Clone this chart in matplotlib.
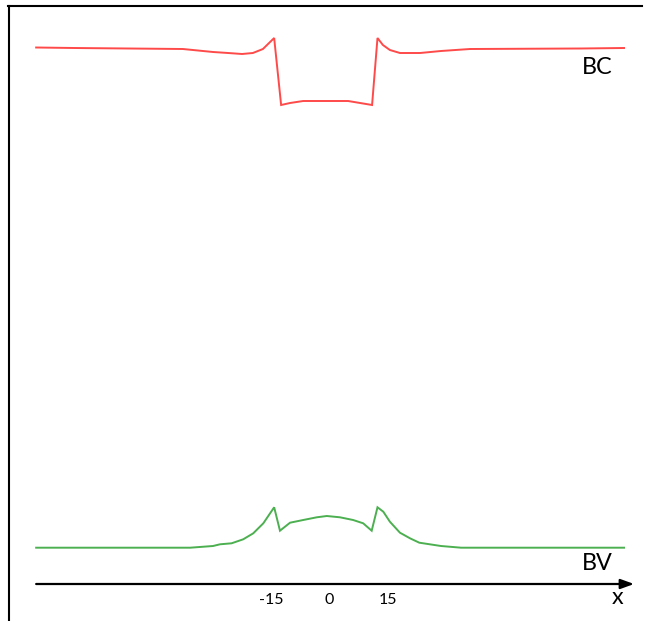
import matplotlib
matplotlib.use("Agg")
import matplotlib.pyplot as plt
from matplotlib.lines import Line2D

# ---- data (x in chart units, y in arbitrary height units) ----
bc_x = [-75.8, -66.0, -37.9, -30.1, -26.2, -22.6, -19.8, -17.2, -14.3, -12.5, -10.2, -6.8,
        4.8, 7.9, 11.0, 12.4, 13.8, 15.6, 18.2, 20.8, 23.4, 28.8, 36.3, 65.0, 76.1]
bc_y = [53.65, 53.6, 53.5, 53.2, 53.1, 53.0, 53.1, 53.5, 54.6, 47.9, 48.1, 48.3,
        48.3, 48.1, 47.9, 54.6, 53.9, 53.4, 53.1, 53.1, 53.1, 53.3, 53.5, 53.55, 53.6]

bv_x = [-75.8, -36.0, -30.1, -28.3, -25.3, -22.3, -19.7, -17.1, -14.3, -12.8, -10.2, -6.8,
        -3.3, -0.7, 2.7, 6.1, 8.7, 10.9, 12.4, 13.9, 15.6, 18.2, 20.8, 23.2, 28.8, 34.0, 76.1]
bv_y = [3.63, 3.63, 3.8, 3.97, 4.07, 4.47, 5.07, 6.07, 7.67, 5.33, 6.13, 6.4,
        6.67, 6.8, 6.67, 6.4, 6.07, 5.33, 7.67, 7.23, 6.23, 5.13, 4.57, 4.13, 3.8, 3.63, 3.63]

tick_values = [-15, 0, 15]
tick_labels = ["-15", "0", "15"]
series_labels = ["BC", "BV"]
axis_label = "x"

W, H, DPI = 646, 621, 100
fig = plt.figure(figsize=(W / DPI, H / DPI), dpi=DPI)
fig.patch.set_facecolor("white")
ax = fig.add_axes([0, 0, 1, 1])
ax.set_xlim(-85.14, 81.78)
ax.set_ylim(-3.7, 58.4)
ax.axis("off")

FONT = ["Lato", "DejaVu Sans"]

ax.plot(bc_x, bc_y, color="#ff4a4a", lw=1.4, solid_joinstyle="miter")
ax.plot(bv_x, bv_y, color="#4caf50", lw=1.4, solid_joinstyle="miter")

# x axis with arrow
ax.annotate("", xy=(78.7, 0), xytext=(-75.8, 0),
            arrowprops=dict(arrowstyle="-|>,head_length=0.8,head_width=0.29",
                            mutation_scale=10, lw=1.6, color="black",
                            shrinkA=0, shrinkB=0))

for v, lab in zip(tick_values, tick_labels):
    ax.text(v, -1.6, lab, ha="center", va="center", fontsize=11.5, family=FONT)

ax.text(69.3, 51.7, series_labels[0], ha="center", va="center", fontsize=16.8, family=FONT)
ax.text(69.3, 2.1, series_labels[1], ha="center", va="center", fontsize=16.8, family=FONT)
ax.text(74.5, -1.4, axis_label, ha="center", va="center", fontsize=16.8, family=FONT)

# frame lines (top and left)
fig.add_artist(Line2D([8 / W, 642 / W], [1 - 6 / H, 1 - 6 / H], color="black", lw=1.5,
                      transform=fig.transFigure))
fig.add_artist(Line2D([9 / W, 9 / W], [1 - 6 / H, 0], color="black", lw=1.5,
                      transform=fig.transFigure))

fig.savefig("out.png", dpi=DPI)
